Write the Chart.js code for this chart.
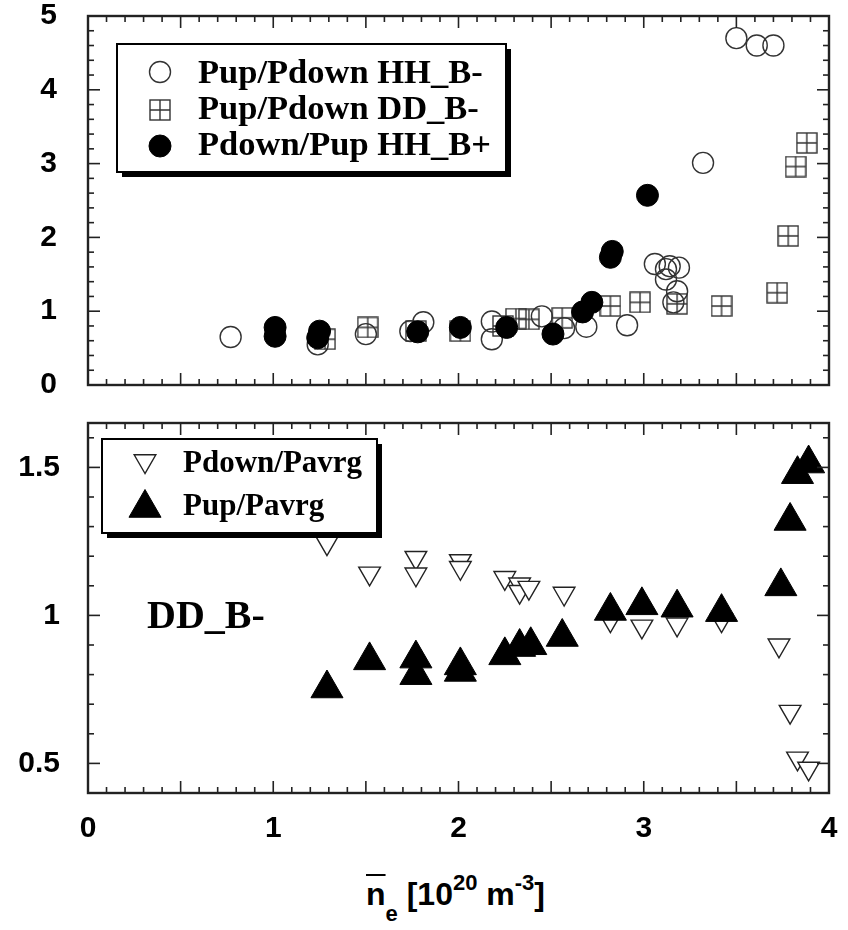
<!DOCTYPE html>
<html>
<head>
<meta charset="utf-8">
<script src="https://cdn.jsdelivr.net/npm/chart.js@4.4.1/dist/chart.umd.min.js"></script>
<style>
  body { margin: 0; background: #fff; width: 848px; height: 930px; position: relative; overflow: hidden; }
  canvas { position: absolute; left: 0; }
  #top { top: 0; }
  #bottom { top: 400px; }
  #xtitle { position: absolute; left: 366px; top: 878px; font: bold 32px "Liberation Sans", sans-serif; line-height: 1; white-space: nowrap; color: #000; }
  #xtitle .n { text-decoration: overline; text-decoration-thickness: 2px; }
  #xtitle .sub { font-size: 22px; position: relative; top: 16px; }
  #xtitle .sup { font-size: 22px; position: relative; top: -15px; }
</style>
</head>
<body>
<canvas id="top" width="848" height="400"></canvas>
<canvas id="bottom" width="848" height="460"></canvas>
<div id="xtitle"><span class="n">n</span><span class="sub">e</span> [10<span class="sup">20</span> m<span class="sup">-3</span>]</div>
<script>
// tick labels
const xTicks = [0, 1, 2, 3, 4];
const topYTicks = [0, 1, 2, 3, 4, 5];
const bottomYTicks = [0.5, 1, 1.5];

// top panel: Pup/Pdown HH_B- (open circles)
const hhMinusX = [0.77, 1.24, 1.50, 1.74, 1.81, 2.18, 2.18, 2.45, 2.57, 2.69, 2.91, 3.06, 3.12, 3.14, 3.19, 3.12, 3.18, 3.16, 3.32, 3.50, 3.61, 3.70];
const hhMinusY = [0.65, 0.55, 0.69, 0.73, 0.85, 0.86, 0.62, 0.93, 0.77, 0.79, 0.81, 1.64, 1.57, 1.61, 1.59, 1.43, 1.27, 1.12, 3.01, 4.70, 4.60, 4.60];

// top panel: Pup/Pdown DD_B- (boxed cross)
const ddMinusX = [1.28, 1.51, 1.77, 2.01, 2.24, 2.31, 2.38, 2.56, 2.82, 2.98, 3.18, 3.42, 3.72, 3.78, 3.82, 3.88];
const ddMinusY = [0.62, 0.78, 0.73, 0.73, 0.80, 0.90, 0.89, 0.91, 1.07, 1.12, 1.10, 1.07, 1.25, 2.02, 2.96, 3.28];

// top panel: Pdown/Pup HH_B+ (filled circles)
const hhPlusX = [1.01, 1.01, 1.25, 1.24, 1.78, 2.01, 2.26, 2.51, 2.67, 2.72, 2.82, 2.83, 3.02];
const hhPlusY = [0.78, 0.66, 0.73, 0.64, 0.72, 0.78, 0.78, 0.69, 0.99, 1.12, 1.73, 1.81, 2.57];

// bottom panel: Pdown/Pavrg (open down triangles)
const downX = [1.29, 1.52, 1.77, 1.77, 2.01, 2.01, 2.25, 2.33, 2.33, 2.38, 2.57, 2.82, 2.99, 3.18, 3.42, 3.73, 3.79, 3.83, 3.89];
const downY = [1.244, 1.142, 1.195, 1.139, 1.184, 1.161, 1.127, 1.105, 1.080, 1.094, 1.074, 0.984, 0.963, 0.970, 0.984, 0.899, 0.675, 0.517, 0.483];

// bottom panel: Pup/Pavrg (filled up triangles)
const upX = [1.29, 1.52, 1.77, 1.77, 2.01, 2.01, 2.25, 2.33, 2.39, 2.56, 2.82, 2.99, 3.18, 3.42, 3.74, 3.79, 3.83, 3.89];
const upY = [0.753, 0.848, 0.854, 0.798, 0.831, 0.809, 0.865, 0.893, 0.899, 0.927, 1.015, 1.034, 1.026, 1.011, 1.098, 1.319, 1.477, 1.513];

const pts = (xs, ys) => xs.map((x, i) => ({ x: x, y: ys[i] }));

// square with a cross in it
function boxCross(size) {
  const c = document.createElement('canvas');
  c.width = c.height = size;
  const g = c.getContext('2d');
  g.strokeStyle = '#333';
  g.lineWidth = 1.4;
  g.strokeRect(1, 1, size - 2, size - 2);
  g.beginPath();
  g.moveTo(size / 2, 1); g.lineTo(size / 2, size - 1);
  g.moveTo(1, size / 2); g.lineTo(size - 1, size / 2);
  g.stroke();
  return c;
}

// frame + inward ticks on all four sides
const frameTicks = {
  id: 'frameTicks',
  afterDatasetsDraw(chart, args, o) {
    const { ctx, chartArea: a, scales } = chart;
    const line = (x1, y1, x2, y2) => { ctx.beginPath(); ctx.moveTo(x1, y1); ctx.lineTo(x2, y2); ctx.stroke(); };
    ctx.save();
    ctx.strokeStyle = '#222';
    ctx.lineWidth = 1.6;
    for (let i = 0; i <= 40; i++) {
      const px = scales.x.getPixelForValue(i / 10);
      const len = i % 5 === 0 ? 12 : 6;
      line(px, a.bottom, px, a.bottom - len);
      line(px, a.top, px, a.top + len);
    }
    for (let i = o.yFrom; i <= o.yTo; i++) {
      const py = scales.y.getPixelForValue(i * o.yMinor);
      const len = i % o.yEvery === 0 ? 12 : 6;
      line(a.left, py, a.left + len, py);
      line(a.right, py, a.right - len, py);
    }
    ctx.lineWidth = 2.4;
    ctx.strokeRect(a.left, a.top, a.right - a.left, a.bottom - a.top);
    ctx.restore();
  }
};

// boxed legend with drop shadow, plus free text note
const boxLegend = {
  id: 'boxLegend',
  afterDraw(chart, args, o) {
    const ctx = chart.ctx;
    const b = o.box;
    ctx.save();
    ctx.fillStyle = '#000';
    ctx.fillRect(b.x + 5, b.y + 5, b.w, b.h);
    ctx.fillStyle = '#fff';
    ctx.fillRect(b.x, b.y, b.w, b.h);
    ctx.strokeStyle = '#000';
    ctx.lineWidth = 2;
    ctx.strokeRect(b.x, b.y, b.w, b.h);
    chart.data.datasets.forEach((ds, i) => {
      ctx.fillStyle = ds.pointBackgroundColor;
      ctx.strokeStyle = ds.pointBorderColor;
      ctx.lineWidth = ds.pointBorderWidth;
      Chart.helpers.drawPoint(ctx, {
        pointStyle: ds.pointStyle, rotation: ds.pointRotation || 0,
        radius: ds.pointRadius, borderWidth: ds.pointBorderWidth
      }, o.symbolX, o.symbolY[i]);
      ctx.fillStyle = '#000';
      ctx.font = o.font;
      ctx.textBaseline = 'alphabetic';
      ctx.fillText(ds.label, o.textX, o.textY[i]);
    });
    if (o.note) {
      ctx.font = o.note.font;
      ctx.fillText(o.note.text, o.note.x, o.note.y);
    }
    ctx.restore();
  }
};

const tickFont = { family: '"Liberation Sans", sans-serif', weight: 'bold', size: 30, lineHeight: 1 };

new Chart(document.getElementById('top'), {
  type: 'scatter',
  data: {
    datasets: [
      { label: 'Pup/Pdown HH_B-', data: pts(hhMinusX, hhMinusY), pointStyle: 'circle', pointRadius: 10.5,
        pointBorderWidth: 1.4, pointBorderColor: '#333', pointBackgroundColor: 'rgba(0,0,0,0)', order: 3 },
      { label: 'Pup/Pdown DD_B-', data: pts(ddMinusX, ddMinusY), pointStyle: boxCross(22), pointRadius: 11,
        pointBorderWidth: 1.3, pointBorderColor: '#333', pointBackgroundColor: 'rgba(0,0,0,0)', order: 2 },
      { label: 'Pdown/Pup HH_B+', data: pts(hhPlusX, hhPlusY), pointStyle: 'circle', pointRadius: 11,
        pointBorderWidth: 1, pointBorderColor: '#000', pointBackgroundColor: '#000', order: 1 }
    ]
  },
  options: {
    responsive: false,
    animation: false,
    layout: { padding: { left: 0, right: 19, top: 16, bottom: 0 }, autoPadding: false },
    plugins: {
      legend: { display: false },
      tooltip: { enabled: false },
      frameTicks: { yMinor: 0.2, yFrom: 0, yTo: 25, yEvery: 5 },
      boxLegend: {
        box: { x: 117, y: 44, w: 389, h: 128 },
        symbolX: 160, symbolY: [72, 110, 146],
        textX: 198, textY: [83, 119, 155],
        font: 'bold 34.5px "Liberation Serif", serif'
      }
    },
    scales: {
      x: {
        type: 'linear', min: 0, max: 4,
        grid: { display: false }, border: { display: false },
        ticks: { display: false },
        afterFit(s) { s.height = 14; }
      },
      y: {
        min: 0, max: 5,
        grid: { display: false, drawTicks: true, tickLength: 31 }, border: { display: false },
        afterBuildTicks(s) { s.ticks = topYTicks.map(v => ({ value: v })); },
        ticks: { padding: 0, color: '#000', font: tickFont, callback: v => String(v) },
        afterFit(s) { s.width = 88; }
      }
    }
  },
  plugins: [frameTicks, boxLegend]
});

new Chart(document.getElementById('bottom'), {
  type: 'scatter',
  data: {
    datasets: [
      { label: 'Pdown/Pavrg', data: pts(downX, downY), pointStyle: 'triangle', pointRotation: 180, pointRadius: 12.5,
        pointBorderWidth: 1.4, pointBorderColor: '#222', pointBackgroundColor: '#fff', order: 2 },
      { label: 'Pup/Pavrg', data: pts(upX, upY), pointStyle: 'triangle', pointRadius: 18.5,
        pointBorderWidth: 1, pointBorderColor: '#000', pointBackgroundColor: '#000', order: 1 }
    ]
  },
  options: {
    responsive: false,
    animation: false,
    layout: { padding: { left: 0, right: 19, top: 23, bottom: 0 }, autoPadding: false },
    plugins: {
      legend: { display: false },
      tooltip: { enabled: false },
      frameTicks: { yMinor: 0.1, yFrom: 4, yTo: 16, yEvery: 5 },
      boxLegend: {
        box: { x: 102, y: 39, w: 275, h: 94 },
        symbolX: 145, symbolY: [61, 108],
        textX: 183, textY: [72, 115],
        font: 'bold 31px "Liberation Serif", serif',
        note: { text: 'DD_B-', x: 147, y: 228, font: 'bold 40px "Liberation Serif", serif' }
      }
    },
    scales: {
      x: {
        type: 'linear', min: 0, max: 4,
        grid: { display: false, drawTicks: true, tickLength: 21 }, border: { display: false },
        afterBuildTicks(s) { s.ticks = xTicks.map(v => ({ value: v })); },
        ticks: { padding: 0, color: '#000', font: tickFont, maxRotation: 0, callback: v => String(v) },
        afterFit(s) { s.height = 67; }
      },
      y: {
        min: 0.4, max: 1.65,
        grid: { display: false, drawTicks: true, tickLength: 28 }, border: { display: false },
        afterBuildTicks(s) { s.ticks = bottomYTicks.map(v => ({ value: v })); },
        ticks: { padding: 0, color: '#000', font: tickFont, callback: v => String(v) },
        afterFit(s) { s.width = 88; }
      }
    }
  },
  plugins: [frameTicks, boxLegend]
});
</script>
</body>
</html>
